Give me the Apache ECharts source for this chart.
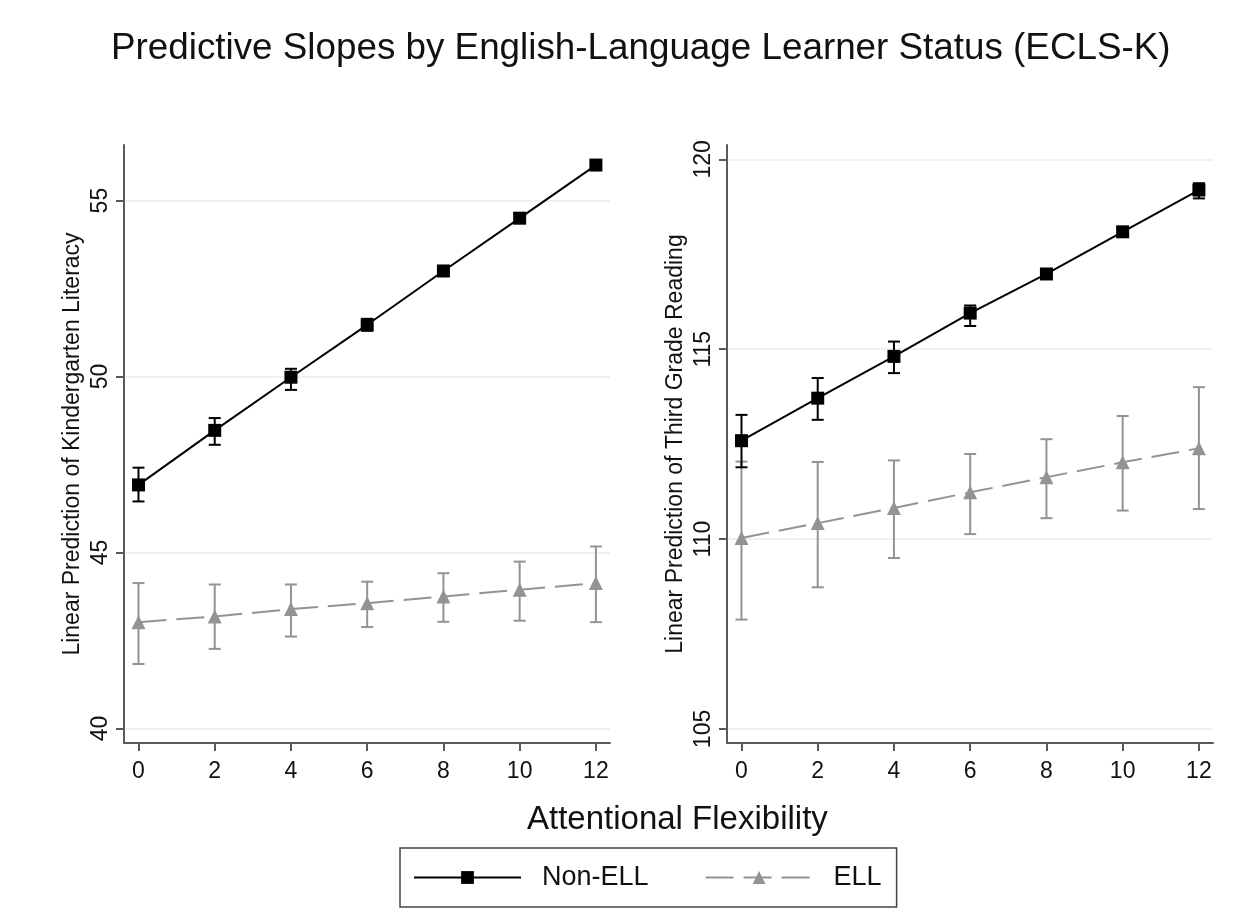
<!DOCTYPE html>
<html>
<head>
<meta charset="utf-8">
<title>Predictive Slopes by English-Language Learner Status (ECLS-K)</title>
<script src="https://cdn.jsdelivr.net/npm/echarts@6/dist/echarts.min.js"></script>
<style>
  html, body { margin: 0; padding: 0; background: #fff; }
  #chart { width: 1254px; height: 909px; }
</style>
</head>
<body>
<div id="chart"></div>
<script>
// Attentional flexibility values on the shared x axis
const flexValues = [0, 2, 4, 6, 8, 10, 12];

// Kindergarten literacy: predicted value with lower / upper confidence bounds
const kinderNonEll   = [46.92, 48.47, 49.98, 51.47, 53.00, 54.50, 56.01];
const kinderNonEllLo = [46.45, 48.06, 49.62, 51.30, 52.88, 54.38, 55.90];
const kinderNonEllHi = [47.41, 48.82, 50.22, 51.64, 53.12, 54.62, 56.12];
const kinderEll      = [43.02, 43.18, 43.39, 43.56, 43.75, 43.94, 44.13];
const kinderEllLo    = [41.83, 42.26, 42.61, 42.88, 43.03, 43.06, 43.02];
const kinderEllHi    = [44.13, 44.09, 44.09, 44.17, 44.41, 44.74, 45.17];

// Third grade reading: predicted value with lower / upper confidence bounds
const thirdNonEll   = [112.59, 113.71, 114.81, 115.95, 116.98, 118.09, 119.19];
const thirdNonEllLo = [111.89, 113.14, 114.37, 115.61, 116.85, 117.97, 118.97];
const thirdNonEllHi = [113.27, 114.24, 115.20, 116.15, 117.11, 118.21, 119.37];
const thirdEll      = [110.03, 110.42, 110.82, 111.23, 111.63, 112.02, 112.39];
const thirdEllLo    = [107.88, 108.73, 109.50, 110.13, 110.55, 110.75, 110.79];
const thirdEllHi    = [112.04, 112.03, 112.07, 112.24, 112.63, 113.24, 114.00];

// Tick labels
const xTicks = [0, 2, 4, 6, 8, 10, 12];
const kinderTicks = [40, 45, 50, 55];
const thirdTicks = [105, 110, 115, 120];

const FONT = 'Liberation Sans, Arial, Helvetica, sans-serif';
const BLACK = '#000000';
const GREY = '#939393';
const AXIS = '#5a5a5a';

function pairs(ys) { return flexValues.map((x, i) => [x, ys[i]]); }
function bars(lo, hi) { return flexValues.map((x, i) => [x, lo[i], hi[i]]); }

// Vertical confidence interval with end caps
function errorBar(color) {
  return function (params, api) {
    const x = api.value(0);
    const top = api.coord([x, api.value(2)]);
    const bot = api.coord([x, api.value(1)]);
    const hw = 6;
    const style = { stroke: color, lineWidth: 2, fill: null };
    return {
      type: 'group',
      children: [
        { type: 'line', shape: { x1: top[0], y1: top[1], x2: bot[0], y2: bot[1] }, style: style },
        { type: 'line', shape: { x1: top[0] - hw, y1: top[1], x2: top[0] + hw, y2: top[1] }, style: style },
        { type: 'line', shape: { x1: bot[0] - hw, y1: bot[1], x2: bot[0] + hw, y2: bot[1] }, style: style }
      ]
    };
  };
}

function xAxisFor(gridIndex) {
  return {
    type: 'value', gridIndex: gridIndex, min: -0.38, max: 12.37,
    axisLine: { show: true, onZero: false, lineStyle: { color: AXIS, width: 2 } },
    axisTick: { show: true, length: 8, customValues: xTicks, lineStyle: { color: AXIS, width: 2 } },
    axisLabel: { customValues: xTicks, color: '#111', fontFamily: FONT, fontSize: 23, margin: 17 },
    splitLine: { show: false }
  };
}

function yAxisFor(gridIndex, min, max, ticks, name) {
  return {
    type: 'value', gridIndex: gridIndex, min: min, max: max,
    name: name, nameLocation: 'middle', nameGap: 40,
    nameTextStyle: { color: '#111', fontFamily: FONT, fontSize: 23 },
    axisLine: { show: true, onZero: false, lineStyle: { color: AXIS, width: 2 } },
    axisTick: { show: true, length: 8, customValues: ticks, lineStyle: { color: AXIS, width: 2 } },
    axisLabel: { customValues: ticks, rotate: 90, color: '#111', fontFamily: FONT, fontSize: 23, margin: 12 },
    splitLine: { show: true, lineStyle: { color: '#ececec', width: 1.5 } }
  };
}

function lineSeries(name, xi, yi, values, color, symbol, size, dashed) {
  return {
    name: name, type: 'line', xAxisIndex: xi, yAxisIndex: yi,
    data: pairs(values), symbol: symbol, symbolSize: size, showSymbol: true,
    itemStyle: { color: color },
    lineStyle: { color: color, width: 2, type: dashed ? [28, 10] : 'solid' },
    z: dashed ? 3 : 5, animation: false
  };
}

function barSeries(name, xi, yi, lo, hi, color, z) {
  return {
    name: name, type: 'custom', xAxisIndex: xi, yAxisIndex: yi,
    data: bars(lo, hi), renderItem: errorBar(color), z: z, animation: false,
    encode: { x: 0, y: [1, 2] }
  };
}

const chart = echarts.init(document.getElementById('chart'), null, { renderer: 'canvas' });

chart.setOption({
  backgroundColor: '#ffffff',
  animation: false,
  title: [
    {
      text: 'Predictive Slopes by English-Language Learner Status (ECLS-K)',
      left: 106, top: 25,
      textStyle: { color: '#111', fontFamily: FONT, fontSize: 36.8, fontWeight: 'normal' }
    },
    {
      text: 'Attentional Flexibility',
      left: 522, top: 798,
      textStyle: { color: '#111', fontFamily: FONT, fontSize: 33, fontWeight: 'normal' }
    }
  ],
  legend: {
    data: ['Non-ELL', 'ELL'],
    left: 400, top: 848,
    padding: [16, 15, 16, 13],
    borderColor: '#444', borderWidth: 1.5,
    itemWidth: 107, itemHeight: 16, itemGap: 56,
    selectedMode: false,
    textStyle: { color: '#111', fontFamily: FONT, fontSize: 27, padding: [0, 0, 0, 16] }
  },
  grid: [
    { left: 124, top: 145, right: 644, bottom: 166 },
    { left: 727, top: 145, right: 41, bottom: 166 }
  ],
  xAxis: [xAxisFor(0), xAxisFor(1)],
  yAxis: [
    yAxisFor(0, 39.585, 56.58, kinderTicks, 'Linear Prediction of Kindergarten Literacy'),
    yAxisFor(1, 104.63, 120.376, thirdTicks, 'Linear Prediction of Third Grade Reading')
  ],
  series: [
    barSeries('ELL CI (K)', 0, 0, kinderEllLo, kinderEllHi, GREY, 2),
    lineSeries('ELL', 0, 0, kinderEll, GREY, 'triangle', 14, true),
    barSeries('Non-ELL CI (K)', 0, 0, kinderNonEllLo, kinderNonEllHi, BLACK, 4),
    lineSeries('Non-ELL', 0, 0, kinderNonEll, BLACK, 'rect', 13, false),

    barSeries('ELL CI (3)', 1, 1, thirdEllLo, thirdEllHi, GREY, 2),
    lineSeries('ELL', 1, 1, thirdEll, GREY, 'triangle', 14, true),
    barSeries('Non-ELL CI (3)', 1, 1, thirdNonEllLo, thirdNonEllHi, BLACK, 4),
    lineSeries('Non-ELL', 1, 1, thirdNonEll, BLACK, 'rect', 13, false)
  ]
});
</script>
</body>
</html>
